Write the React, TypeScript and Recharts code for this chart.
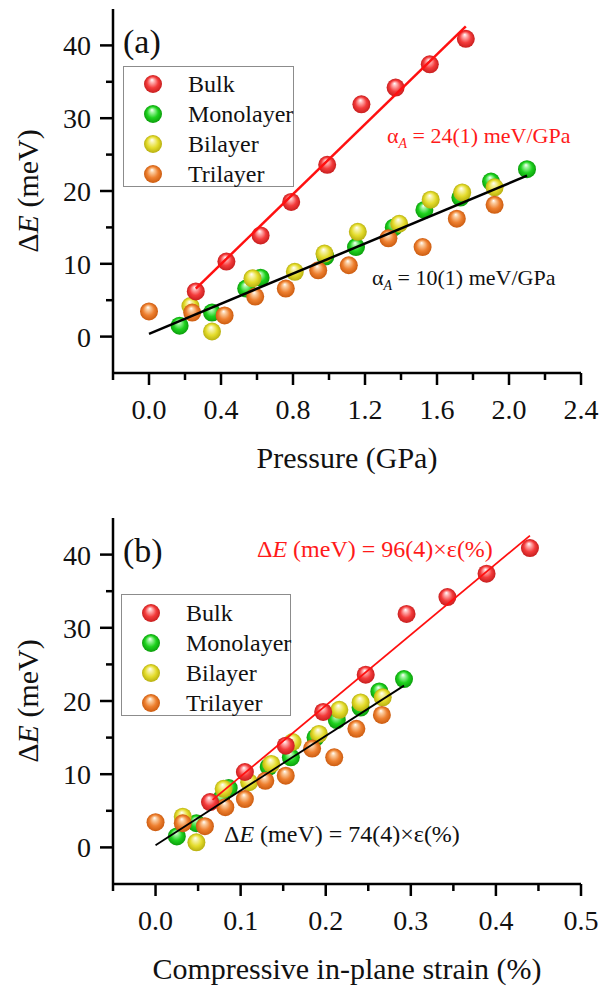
import React from 'react';
import { ScatterChart, Scatter, XAxis, YAxis, Legend } from 'recharts';

const FONT = '"Liberation Serif", "Times New Roman", Times, serif';

// ---- values ----
const bulkPressure = [0.26, 0.43, 0.62, 0.79, 0.99, 1.18, 1.37, 1.56, 1.76];
const bulkStrain = [0.064, 0.105, 0.153, 0.197, 0.247, 0.295, 0.343, 0.389, 0.44];
const bulkDE = [6.2, 10.3, 13.9, 18.5, 23.6, 31.9, 34.2, 37.4, 40.9];

const monoPressure = [0.17, 0.35, 0.54, 0.62, 0.98, 1.15, 1.36, 1.53, 1.73, 1.9, 2.1];
const monoStrain = [0.025, 0.048, 0.077, 0.086, 0.133, 0.159, 0.188, 0.213, 0.241, 0.263, 0.292];
const monoDE = [1.5, 3.3, 6.6, 8.1, 11.0, 12.3, 15.0, 17.4, 19.1, 21.3, 23.0];

const biPressure = [0.23, 0.35, 0.575, 0.81, 0.975, 1.16, 1.39, 1.565, 1.74, 1.92];
const biStrain = [0.032, 0.048, 0.08, 0.11, 0.136, 0.161, 0.192, 0.216, 0.241, 0.267];
const biDE = [4.2, 0.7, 8.0, 8.9, 11.4, 14.4, 15.5, 18.8, 19.8, 20.5];

const triPressure = [0.0, 0.24, 0.42, 0.59, 0.76, 0.94, 1.11, 1.33, 1.52, 1.71, 1.92];
const triStrain = [0.0, 0.032, 0.058, 0.082, 0.105, 0.129, 0.153, 0.184, 0.21, 0.236, 0.266];
const triDE = [3.45, 3.3, 2.9, 5.5, 6.6, 9.1, 9.8, 13.5, 12.3, 16.2, 18.1];

// linear fits (end points)
const fitBulkPressure = [0.26, 1.76];
const fitBulkPressureDE = [6.6, 42.6];
const fitLayerPressure = [0.0, 2.1];
const fitLayerPressureDE = [0.37, 22.1];
const fitBulkStrain = [0.067, 0.44];
const fitBulkStrainDE = [6.5, 42.6];
const fitLayerStrain = [0.0, 0.292];
const fitLayerStrainDE = [0.3, 22.1];

// axes
const pressureTicks = [-0.2, 0, 0.2, 0.4, 0.6, 0.8, 1.0, 1.2, 1.4, 1.6, 1.8, 2.0, 2.2, 2.4];
const pressureMajors = [0, 0.4, 0.8, 1.2, 1.6, 2.0, 2.4];
const strainTicks = [-0.05, 0, 0.05, 0.1, 0.15, 0.2, 0.25, 0.3, 0.35, 0.4, 0.45, 0.5];
const strainMajors = [0, 0.1, 0.2, 0.3, 0.4, 0.5];
const deTicks = [0, 5, 10, 15, 20, 25, 30, 35, 40];
const deMajors = [0, 10, 20, 30, 40];

const zip = (xs: number[], ys: number[]) => xs.map((x, i) => ({ x, y: ys[i] }));

const balls = [
  { key: 'bulk', name: 'Bulk', grad: 'ball-red', light: '#ffb4b4', base: '#f43c3c', dark: '#c81e1e' },
  { key: 'mono', name: 'Monolayer', grad: 'ball-green', light: '#a0f5a0', base: '#1ed21e', dark: '#0c9e0c' },
  { key: 'bi', name: 'Bilayer', grad: 'ball-yellow', light: '#f7f3a8', base: '#e4dc2c', dark: '#b8b010' },
  { key: 'tri', name: 'Trilayer', grad: 'ball-orange', light: '#fbcda0', base: '#ee8030', dark: '#cc5c10' },
];

const BallDefs = () => (
  <defs>
    {balls.map((b) => (
      <radialGradient key={b.grad} id={b.grad} cx="50%" cy="50%" r="50%" fx="44%" fy="26%">
        <stop offset="0%" stopColor="#ffffff" />
        <stop offset="22%" stopColor={b.light} />
        <stop offset="62%" stopColor={b.base} />
        <stop offset="100%" stopColor={b.dark} />
      </radialGradient>
    ))}
  </defs>
);

const ball = (grad: string) => (p: any) => <circle cx={p.cx} cy={p.cy} r={9} fill={`url(#${grad})`} />;
const noDot = () => <g />;

const isIn = (v: number, list: number[]) => list.some((m) => Math.abs(m - v) < 1e-6);

const bottomTick = (majors: number[]) => (p: any) => {
  const v = p.payload.value;
  const major = isIn(v, majors);
  return (
    <g>
      <line x1={p.x} x2={p.x} y1={p.y} y2={p.y + (major ? 12 : 7)} stroke="#000" strokeWidth={2.5} />
      {major && (
        <text x={p.x} y={p.y + 46} textAnchor="middle" fontSize={28} fontFamily={FONT} fill="#111">
          {v.toFixed(1)}
        </text>
      )}
    </g>
  );
};

const leftTick = (majors: number[]) => (p: any) => {
  const v = p.payload.value;
  const major = isIn(v, majors);
  return (
    <g>
      <line x1={p.x} x2={p.x - (major ? 13 : 7)} y1={p.y} y2={p.y} stroke="#000" strokeWidth={2.5} />
      {major && (
        <text x={p.x - 22} y={p.y + 10} textAnchor="end" fontSize={28} fontFamily={FONT} fill="#111">
          {v}
        </text>
      )}
    </g>
  );
};

const topTick = (majors: number[]) => (p: any) => {
  const major = isIn(p.payload.value, majors);
  return <line x1={p.x} x2={p.x} y1={p.y} y2={p.y + (major ? 8 : 5)} stroke="#000" strokeWidth={2.5} />;
};

const rightTick = (majors: number[]) => (p: any) => {
  const major = isIn(p.payload.value, majors);
  return <line x1={p.x} x2={p.x - (major ? 8 : 5)} y1={p.y} y2={p.y} stroke="#000" strokeWidth={2.5} />;
};

const LegendBox = ({ width, height, firstY }: { width: number; height: number; firstY: number }) => (
  <div
    style={{
      width,
      height,
      boxSizing: 'border-box',
      border: '1px solid #8c8c8c',
      background: '#fff',
      position: 'relative',
      fontFamily: FONT,
      fontSize: 24,
      color: '#111',
    }}
  >
    {balls.map((b, i) => (
      <div
        key={b.key}
        style={{ position: 'absolute', left: 0, top: firstY + i * 30 - 15, height: 30, display: 'flex', alignItems: 'center' }}
      >
        <svg width={60} height={30}>
          <circle cx={29} cy={15} r={9} fill={`url(#${b.grad})`} />
        </svg>
        <span style={{ marginLeft: 4, lineHeight: '30px' }}>{b.name}</span>
      </div>
    ))}
  </div>
);

interface PanelProps {
  height: number;
  top: number;
  plotH: number;
  xDomain: [number, number];
  xTicks: number[];
  xMajors: number[];
  xTitle: string;
  series: Record<string, { x: number; y: number }[]>;
  fits: { color: string; width: number; data: { x: number; y: number }[] }[];
  legend: { left: number; top: number; width: number; height: number; firstY: number };
  children?: React.ReactNode;
}

const Panel = ({ height, top, plotH, xDomain, xTicks, xMajors, xTitle, series, fits, legend, children }: PanelProps) => {
  const xAxisH = height - top - plotH;
  const midY = top + plotH / 2;
  return (
    <ScatterChart width={603} height={height} margin={{ top, right: 22, left: 43, bottom: 0 }}>
      <BallDefs />
      <XAxis
        type="number"
        dataKey="x"
        domain={xDomain}
        ticks={xTicks}
        interval={0}
        allowDataOverflow
        height={xAxisH}
        tickSize={0}
        tickMargin={0}
        tickLine={false}
        axisLine={{ stroke: '#000', strokeWidth: 2.5 }}
        tick={bottomTick(xMajors)}
      />
      <XAxis
        xAxisId="top"
        orientation="top"
        type="number"
        dataKey="x"
        domain={xDomain}
        ticks={xTicks}
        interval={0}
        allowDataOverflow
        height={0}
        tickSize={0}
        tickMargin={0}
        tickLine={false}
        axisLine={{ stroke: '#000', strokeWidth: 2.5 }}
        tick={topTick(xMajors)}
      />
      <YAxis
        type="number"
        dataKey="y"
        domain={[-5, 45]}
        ticks={deTicks}
        interval={0}
        allowDataOverflow
        width={70}
        tickSize={0}
        tickMargin={0}
        tickLine={false}
        axisLine={{ stroke: '#000', strokeWidth: 2.5 }}
        tick={leftTick(deMajors)}
      />
      <YAxis
        yAxisId="right"
        orientation="right"
        type="number"
        dataKey="y"
        domain={[-5, 45]}
        ticks={deTicks}
        interval={0}
        allowDataOverflow
        width={0}
        tickSize={0}
        tickMargin={0}
        tickLine={false}
        axisLine={{ stroke: '#000', strokeWidth: 2.5 }}
        tick={rightTick(deMajors)}
      />
      <Legend
        layout="horizontal"
        verticalAlign="middle"
        align="center"
        wrapperStyle={{ position: 'absolute', left: legend.left, top: legend.top, width: legend.width, height: legend.height }}
        content={() => <LegendBox width={legend.width} height={legend.height} firstY={legend.firstY} />}
      />
      <Scatter name="Monolayer" data={series.mono} shape={ball('ball-green')} isAnimationActive={false} />
      <Scatter name="Bilayer" data={series.bi} shape={ball('ball-yellow')} isAnimationActive={false} />
      <Scatter name="Trilayer" data={series.tri} shape={ball('ball-orange')} isAnimationActive={false} />
      <Scatter name="Bulk" data={series.bulk} shape={ball('ball-red')} isAnimationActive={false} />
      {fits.map((f, i) => (
        <Scatter
          key={i}
          data={f.data}
          line={{ stroke: f.color, strokeWidth: f.width }}
          shape={noDot}
          legendType="none"
          isAnimationActive={false}
        />
      ))}
      <text
        transform="rotate(-90)"
        x={-midY}
        y={38}
        textAnchor="middle"
        fontSize={30}
        fontFamily={FONT}
        fill="#111"
      >
        <tspan>Δ</tspan>
        <tspan fontStyle="italic">E</tspan>
        <tspan> (meV)</tspan>
      </text>
      <text x={347} y={top + plotH + 95} textAnchor="middle" fontSize={30} fontFamily={FONT} fill="#111">
        {xTitle}
      </text>
      {children}
    </ScatterChart>
  );
};

export default function App() {
  return (
    <div style={{ width: 603, height: 990, background: '#fff', position: 'relative' }}>
      <style>{'body{margin:0;background:#fff}'}</style>
      <Panel
        height={480}
        top={9}
        plotH={364}
        xDomain={[-0.2, 2.4]}
        xTicks={pressureTicks}
        xMajors={pressureMajors}
        xTitle="Pressure (GPa)"
        series={{
          bulk: zip(bulkPressure, bulkDE),
          mono: zip(monoPressure, monoDE),
          bi: zip(biPressure, biDE),
          tri: zip(triPressure, triDE),
        }}
        fits={[
          { color: '#ff1010', width: 2.5, data: zip(fitBulkPressure, fitBulkPressureDE) },
          { color: '#000', width: 2.5, data: zip(fitLayerPressure, fitLayerPressureDE) },
        ]}
        legend={{ left: 123, top: 66, width: 171, height: 121, firstY: 17 }}
      >
        <text x={123} y={53} fontSize={34} fontFamily={FONT} fill="#111">(a)</text>
        <text x={387} y={143} fontSize={22} fontFamily={FONT} fill="#ff1a1a">
          α<tspan fontStyle="italic" fontSize={14} dy={5}>A</tspan>
          <tspan dy={-5}> = 24(1) meV/GPa</tspan>
        </text>
        <text x={372} y={285} fontSize={22} fontFamily={FONT} fill="#111">
          α<tspan fontStyle="italic" fontSize={14} dy={5}>A</tspan>
          <tspan dy={-5}> = 10(1) meV/GPa</tspan>
        </text>
      </Panel>
      <Panel
        height={510}
        top={38}
        plotH={366}
        xDomain={[-0.05, 0.5]}
        xTicks={strainTicks}
        xMajors={strainMajors}
        xTitle="Compressive in-plane strain (%)"
        series={{
          bulk: zip(bulkStrain, bulkDE),
          mono: zip(monoStrain, monoDE),
          bi: zip(biStrain, biDE),
          tri: zip(triStrain, triDE),
        }}
        fits={[
          { color: '#ff1010', width: 1.8, data: zip(fitBulkStrain, fitBulkStrainDE) },
          { color: '#000', width: 1.8, data: zip(fitLayerStrain, fitLayerStrainDE) },
        ]}
        legend={{ left: 121, top: 114, width: 170, height: 122, firstY: 18 }}
      >
        <text x={123} y={82} fontSize={34} fontFamily={FONT} fill="#111">(b)</text>
        <text x={257} y={77} fontSize={24} fontFamily={FONT} fill="#ff1a1a">
          Δ<tspan fontStyle="italic">E</tspan> (meV) = 96(4)×ε(%)
        </text>
        <text x={224} y={362} fontSize={24} fontFamily={FONT} fill="#111">
          Δ<tspan fontStyle="italic">E</tspan> (meV) = 74(4)×ε(%)
        </text>
      </Panel>
    </div>
  );
}
